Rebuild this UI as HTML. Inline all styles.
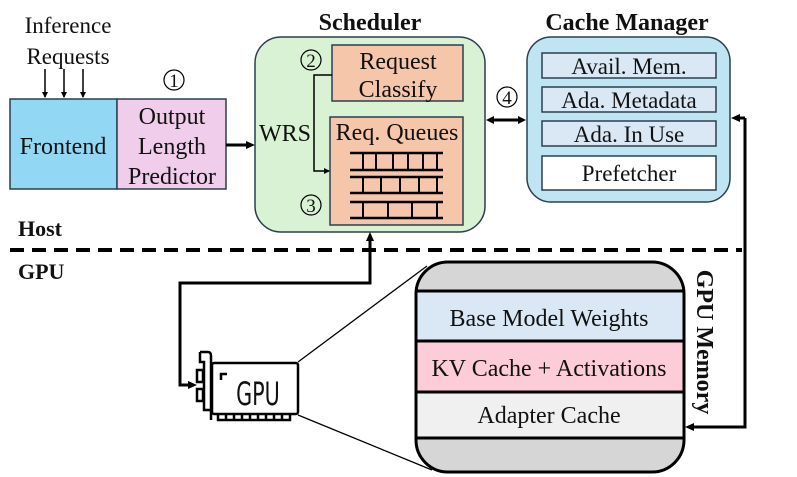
<!DOCTYPE html>
<html><head><meta charset="utf-8"><style>
html,body{margin:0;padding:0;background:#fff;}
svg{display:block;}
text{font-family:"Liberation Serif",serif;fill:#111;}
</style></head><body>
<svg width="797" height="477" viewBox="0 0 797 477" xmlns="http://www.w3.org/2000/svg">
<defs>
<marker id="ahs" markerWidth="6" markerHeight="6" refX="5" refY="3" orient="auto" markerUnits="userSpaceOnUse"><path d="M0,0 L6,3 L0,6 z" fill="#000"/></marker>
</defs>
<!-- Inference requests -->
<text x="68" y="33" font-size="23" text-anchor="middle">Inference</text>
<text x="68" y="64" font-size="23" text-anchor="middle">Requests</text>
<line x1="45" y1="69" x2="45" y2="97" stroke="#000" stroke-width="1.5" marker-end="url(#ahs)"/>
<line x1="64" y1="69" x2="64" y2="97" stroke="#000" stroke-width="1.5" marker-end="url(#ahs)"/>
<line x1="83" y1="69" x2="83" y2="97" stroke="#000" stroke-width="1.5" marker-end="url(#ahs)"/>
<!-- Frontend / predictor -->
<rect x="10" y="99" width="107" height="90" fill="#92d8f4" stroke="#2b3f4f" stroke-width="1.5"/>
<text x="63" y="154" font-size="24" text-anchor="middle">Frontend</text>
<rect x="117" y="99" width="109" height="90" fill="#f0cdeb" stroke="#2b3f4f" stroke-width="1.5"/>
<text x="172" y="124" font-size="24" text-anchor="middle">Output</text>
<text x="172" y="154" font-size="24" text-anchor="middle">Length</text>
<text x="172" y="184" font-size="24" text-anchor="middle">Predictor</text>
<circle cx="174" cy="80" r="10" fill="none" stroke="#000" stroke-width="1.2"/>
<text x="174" y="87" font-size="19" text-anchor="middle">1</text>
<line x1="226" y1="145" x2="247" y2="145" stroke="#000" stroke-width="3"/>
<path d="M255,145 L246,141 L246,149 z" fill="#000"/>
<!-- Scheduler -->
<text x="370" y="30" font-size="24" font-weight="bold" text-anchor="middle">Scheduler</text>
<rect x="255" y="37" width="230" height="195" rx="26" fill="#d9f2d3" stroke="#2b3f4f" stroke-width="1.5"/>
<rect x="332" y="45" width="131" height="56" fill="#f5c6aa" stroke="#2b3f4f" stroke-width="1.5"/>
<text x="398" y="69" font-size="24" text-anchor="middle">Request</text>
<text x="398" y="97" font-size="24" text-anchor="middle">Classify</text>
<rect x="330" y="117" width="133" height="108" fill="#f5c6aa" stroke="#2b3f4f" stroke-width="1.5"/>
<text x="397" y="140" font-size="24" text-anchor="middle">Req. Queues</text>
<g stroke="#000" stroke-width="2.5">
<line x1="350" y1="153" x2="443" y2="153"/><line x1="350" y1="170" x2="443" y2="170"/>
<line x1="350" y1="177" x2="443" y2="177"/><line x1="350" y1="193" x2="443" y2="193"/>
<line x1="350" y1="202" x2="443" y2="202"/><line x1="350" y1="218" x2="443" y2="218"/>
</g>
<g stroke="#000" stroke-width="2">
<line x1="363" y1="153" x2="363" y2="170"/><line x1="376" y1="153" x2="376" y2="170"/><line x1="393" y1="153" x2="393" y2="170"/><line x1="408" y1="153" x2="408" y2="170"/><line x1="423" y1="153" x2="423" y2="170"/><line x1="437" y1="153" x2="437" y2="170"/>
<line x1="363" y1="177" x2="363" y2="193"/><line x1="381" y1="177" x2="381" y2="193"/><line x1="400" y1="177" x2="400" y2="193"/><line x1="419" y1="177" x2="419" y2="193"/><line x1="437" y1="177" x2="437" y2="193"/>
<line x1="363" y1="202" x2="363" y2="218"/><line x1="388" y1="202" x2="388" y2="218"/><line x1="412" y1="202" x2="412" y2="218"/><line x1="437" y1="202" x2="437" y2="218"/>
</g>
<circle cx="311" cy="60" r="10" fill="none" stroke="#000" stroke-width="1.2"/>
<text x="311" y="67" font-size="19" text-anchor="middle">2</text>
<circle cx="311" cy="205" r="10" fill="none" stroke="#000" stroke-width="1.2"/>
<text x="311" y="212" font-size="19" text-anchor="middle">3</text>
<text x="285" y="141" font-size="24" text-anchor="middle">WRS</text>
<polyline points="332,75 314,75 314,171 329,171" fill="none" stroke="#000" stroke-width="1.5" marker-end="url(#ahs)"/>
<!-- arrow 4 -->
<circle cx="507" cy="97" r="10" fill="none" stroke="#000" stroke-width="1.2"/>
<text x="507" y="104" font-size="19" text-anchor="middle">4</text>
<line x1="492" y1="120" x2="520" y2="120" stroke="#000" stroke-width="3"/>
<path d="M486,120 L494,116 L494,124 z M526,120 L518,116 L518,124 z" fill="#000"/>
<!-- Cache Manager -->
<text x="627" y="30" font-size="24" font-weight="bold" text-anchor="middle">Cache Manager</text>
<rect x="527" y="37" width="203" height="165" rx="24" fill="#bfe5f3" stroke="#2b3f4f" stroke-width="1.5"/>
<rect x="542" y="53" width="174" height="25" fill="#dae8f5" stroke="#2b3f4f" stroke-width="1.5"/>
<text x="629" y="74" font-size="23" text-anchor="middle">Avail. Mem.</text>
<rect x="542" y="87" width="174" height="25" fill="#dae8f5" stroke="#2b3f4f" stroke-width="1.5"/>
<text x="629" y="108" font-size="23" text-anchor="middle">Ada. Metadata</text>
<rect x="542" y="121" width="174" height="25" fill="#dae8f5" stroke="#2b3f4f" stroke-width="1.5"/>
<text x="629" y="142" font-size="23" text-anchor="middle">Ada. In Use</text>
<rect x="542" y="156" width="174" height="34" fill="#fff" stroke="#2b3f4f" stroke-width="1.5"/>
<text x="629" y="181" font-size="23" text-anchor="middle">Prefetcher</text>
<!-- right connector -->
<polyline points="745,118 745,427 692,427" fill="none" stroke="#000" stroke-width="3"/>
<line x1="745" y1="118" x2="738" y2="118" stroke="#000" stroke-width="3"/>
<path d="M731,118 L740,114 L740,122 z" fill="#000"/>
<path d="M685,427 L694,423 L694,431 z" fill="#000"/>
<!-- Host / GPU divider -->
<text x="18" y="236" font-size="22" font-weight="bold">Host</text>
<line x1="10" y1="250" x2="742" y2="250" stroke="#000" stroke-width="4" stroke-dasharray="14,8"/>
<text x="18" y="279" font-size="22" font-weight="bold">GPU</text>
<!-- scheduler to GPU connector -->
<polyline points="370,240 370,283 180,283 180,385 190,385" fill="none" stroke="#000" stroke-width="3"/>
<path d="M370,232 L366,241 L374,241 z" fill="#000"/>
<path d="M197,385 L188,381 L188,389 z" fill="#000"/>
<!-- GPU icon -->
<g fill="none" stroke="#000" stroke-width="2.5">
<path d="M200,352 L208,352 Q211,352 211,356 L211,420"/>
<path d="M200,352 L200,362 L204,362 L204,410 L211,410"/>
<rect x="197" y="370" width="6" height="12"/>
<rect x="197" y="389" width="6" height="12"/>
<rect x="212" y="363" width="86" height="51" rx="2"/>
<path d="M221,380 L221,374 L227,374"/>
<path d="M218,414 L218,420 L290,420 L290,414 M226,414 L226,420 M234,414 L234,420 M242,414 L242,420 M250,414 L250,420 M258,414 L258,420 M266,414 L266,420 M274,414 L274,420 M282,414 L282,420"/>
</g>
<text x="258" y="405" font-size="32" text-anchor="middle" style="font-family:'DejaVu Sans Condensed','DejaVu Sans',sans-serif;" transform="translate(258,0) scale(0.72,1) translate(-258,0)">GPU</text>
<line x1="298" y1="362" x2="427" y2="266" stroke="#000" stroke-width="1.3"/>
<line x1="298" y1="415" x2="432" y2="470" stroke="#000" stroke-width="1.3"/>
<!-- GPU memory -->
<defs><clipPath id="mc"><rect x="416" y="262" width="268" height="210" rx="32"/></clipPath></defs>
<g clip-path="url(#mc)">
<rect x="416" y="262" width="268" height="210" fill="#d6d6d6"/>
<rect x="416" y="291" width="268" height="50" fill="#dae8f5"/>
<rect x="416" y="341" width="268" height="51" fill="#fcccd8"/>
<rect x="416" y="392" width="268" height="46" fill="#f0f0f0"/>
</g>
<g stroke="#000" stroke-width="3">
<line x1="416" y1="291" x2="684" y2="291"/>
<line x1="416" y1="341" x2="684" y2="341"/>
<line x1="416" y1="392" x2="684" y2="392"/>
<line x1="416" y1="438" x2="684" y2="438"/>
</g>
<rect x="416" y="262" width="268" height="210" rx="32" fill="none" stroke="#000" stroke-width="3"/>
<text x="549" y="326" font-size="24" text-anchor="middle">Base Model Weights</text>
<text x="549" y="376" font-size="24" text-anchor="middle">KV Cache + Activations</text>
<text x="549" y="423" font-size="24" text-anchor="middle">Adapter Cache</text>
<text x="0" y="0" font-size="24" font-weight="bold" text-anchor="middle" transform="translate(697,342) rotate(90)">GPU Memory</text>
</svg>
</body></html>
